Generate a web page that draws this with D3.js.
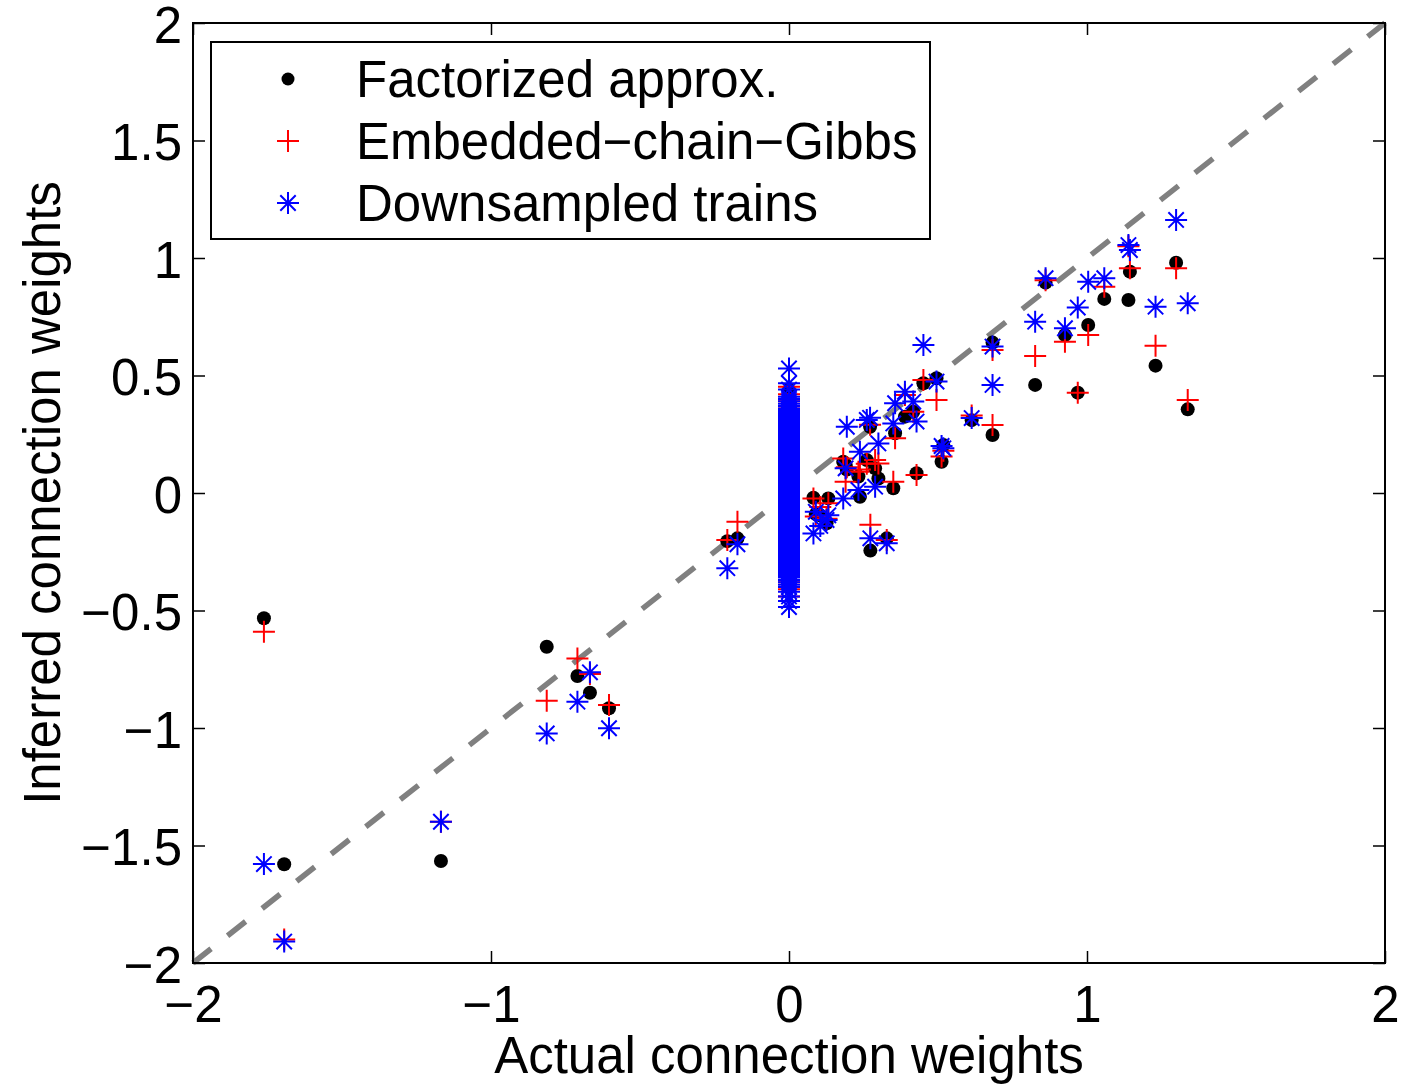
<!DOCTYPE html>
<html lang="en">
<head>
<meta charset="utf-8">
<title>Inferred vs actual connection weights</title>
<script src="https://d3js.org/d3.v7.min.js"></script>
<style>
  body { margin: 0; background: #fff; }
  svg text { font-family: "Liberation Sans", Arial, Helvetica, sans-serif; fill: #000; }
</style>
</head>
<body>
<div id="chart"></div>
<script>
// actual weight of each non-zero connection, and what each method inferred
var actualW = [-1.762, -1.694, -1.168, -0.813, -0.710, -0.668, -0.604, -0.207, -0.173,
  0.082, 0.090, 0.105, 0.126, 0.132, 0.182, 0.190, 0.194, 0.233, 0.238, 0.261, 0.272,
  0.273, 0.289, 0.300, 0.328, 0.350, 0.356, 0.389, 0.417, 0.428, 0.451, 0.495, 0.512,
  0.518, 0.613, 0.683, 0.683, 0.826, 0.861, 0.926, 0.969, 1.004, 1.058, 1.139, 1.144,
  1.230, 1.299, 1.338];
var factorized = [-0.533, -1.580, -1.566, -0.654, -0.779, -0.850, -0.916, -0.205, -0.193,
  -0.020, -0.090, -0.095, -0.129, -0.023, 0.133, 0.120, 0.100, 0.070, -0.016, 0.140, 0.282,
  -0.245, 0.105, 0.062, -0.193, 0.020, 0.254, 0.325, 0.346, 0.084, 0.467, 0.488, 0.133,
  0.204, 0.310, 0.247, 0.640, 0.460, 0.895, 0.672, 0.427, 0.715, 0.826, 0.821, 0.942,
  0.542, 0.980, 0.356];
var embedded = [-0.590, -1.900, -1.399, -0.884, -0.704, -0.770, -0.902, -0.200, -0.122,
  -0.023, -0.100, -0.060, -0.110, -0.044, 0.147, 0.048, 0.110, 0.090, 0.100, 0.125, 0.290,
  -0.135, 0.140, 0.126, -0.200, 0.048, 0.233, 0.417, 0.346, 0.077, 0.481, 0.396, 0.155,
  0.180, 0.330, 0.289, 0.609, 0.583, 0.905, 0.644, 0.427, 0.672, 0.878, 1.050, 0.956,
  0.627, 0.956, 0.396];
var downsampled = [-1.579, -1.909, -1.399, -1.023, -0.888, -0.763, -1.001, -0.320, -0.218,
  -0.172, -0.080, -0.140, -0.115, -0.095, -0.023, 0.105, 0.282, 0.013, 0.176, 0.311, 0.320,
  -0.193, 0.027, 0.211, -0.214, 0.296, 0.382, 0.431, 0.389, 0.304, 0.630, 0.474, 0.200,
  0.190, 0.319, 0.460, 0.623, 0.729, 0.914, 0.701, 0.789, 0.899, 0.914, 1.055, 1.034,
  0.793, 1.162, 0.807];

// connections whose actual weight is zero (dense column at x = 0)
var zeroFactorized = [0.438, 0.40, 0.35, 0.31, 0.27, 0.22, 0.18, 0.13, 0.09, 0.05, 0.01,
  -0.03, -0.07, -0.11, -0.16, -0.20, -0.24, -0.28, -0.32, -0.36, -0.40];
var zeroEmbedded = [0.452, 0.42, 0.39, 0.36, 0.33, 0.30, 0.275, 0.25, 0.22, 0.195, 0.17,
  0.14, 0.115, 0.09, 0.06, 0.035, 0.01, -0.015, -0.04, -0.07, -0.095, -0.12, -0.15,
  -0.175, -0.20, -0.225, -0.25, -0.28, -0.305, -0.33, -0.355, -0.38, -0.41, -0.44];
var zeroDownsampled = [0.530, 0.467, 0.44, 0.41, 0.40, 0.39, 0.38, 0.37, 0.36, 0.355, 0.35,
  0.345, 0.34, 0.335, 0.33, 0.325, 0.32, 0.315, 0.31, 0.305, 0.30, 0.295, 0.29, 0.285,
  0.28, 0.275, 0.27, 0.265, 0.26, 0.255, 0.25, 0.245, 0.24, 0.235, 0.23, 0.225, 0.22,
  0.215, 0.21, 0.205, 0.20, 0.195, 0.19, 0.185, 0.18, 0.175, 0.17, 0.165, 0.16, 0.155,
  0.15, 0.145, 0.14, 0.135, 0.13, 0.125, 0.12, 0.115, 0.11, 0.105, 0.10, 0.095, 0.09,
  0.085, 0.08, 0.075, 0.07, 0.065, 0.06, 0.055, 0.05, 0.045, 0.04, 0.035, 0.03, 0.025,
  0.02, 0.015, 0.01, 0.005, 0.00, -0.005, -0.01, -0.015, -0.02, -0.025, -0.03, -0.035,
  -0.04, -0.045, -0.05, -0.055, -0.06, -0.065, -0.07, -0.075, -0.08, -0.085, -0.09,
  -0.095, -0.10, -0.105, -0.11, -0.115, -0.12, -0.125, -0.13, -0.135, -0.14, -0.145,
  -0.15, -0.155, -0.16, -0.165, -0.17, -0.175, -0.18, -0.185, -0.19, -0.195, -0.20,
  -0.205, -0.21, -0.215, -0.22, -0.225, -0.23, -0.235, -0.24, -0.245, -0.25, -0.255,
  -0.26, -0.265, -0.27, -0.275, -0.28, -0.285, -0.29, -0.295, -0.30, -0.305, -0.31,
  -0.315, -0.32, -0.325, -0.33, -0.335, -0.34, -0.345, -0.35, -0.355, -0.36, -0.37,
  -0.38, -0.39, -0.40, -0.42, -0.44, -0.46, -0.485];

var xTicks = [-2, -1, 0, 1, 2];
var yTicks = [-2, -1.5, -1, -0.5, 0, 0.5, 1, 1.5, 2];
var legendLabels = ["Factorized approx.", "Embedded\u2212chain\u2212Gibbs", "Downsampled trains"];

// layout
var W = 1403, H = 1087;
var margin = {top: 23, right: 18, bottom: 124, left: 193},
    width = W - margin.left - margin.right,
    height = H - margin.top - margin.bottom;
var fontSize = "51px";

var svg = d3.select("#chart")
  .append("svg")
    .attr("width", W)
    .attr("height", H)
  .append("g")
    .attr("transform", "translate(" + margin.left + "," + margin.top + ")");

var x = d3.scaleLinear().domain([-2, 2]).range([0, width]);
var y = d3.scaleLinear().domain([-2, 2]).range([height, 0]);
var fmt = d3.format("~g");

// ticks go inward on all four sides, like a boxed matlab axis
svg.append("g")
  .attr("transform", "translate(0," + height + ")")
  .call(d3.axisBottom(x).tickValues(xTicks).tickFormat(fmt).tickSizeInner(-12).tickSizeOuter(0).tickPadding(23))
  .call(g => g.select(".domain").remove());
svg.append("g")
  .call(d3.axisTop(x).tickValues(xTicks).tickFormat("").tickSizeInner(-12).tickSizeOuter(0))
  .call(g => g.select(".domain").remove());
svg.append("g")
  .attr("class", "yaxis")
  .call(d3.axisLeft(y).tickValues(yTicks).tickFormat(fmt).tickSizeInner(-12).tickSizeOuter(0).tickPadding(11))
  .call(g => g.select(".domain").remove());
svg.append("g")
  .attr("transform", "translate(" + width + ",0)")
  .call(d3.axisRight(y).tickValues(yTicks).tickFormat("").tickSizeInner(-12).tickSizeOuter(0))
  .call(g => g.select(".domain").remove());

svg.selectAll(".tick line").attr("stroke", "#000").attr("stroke-width", 1.5);
svg.selectAll(".tick text")
  .style("font-size", fontSize)
  .style("font-family", '"Liberation Sans", Arial, Helvetica, sans-serif');
svg.selectAll(".yaxis .tick text").attr("dy", "0.38em");

// identity line
svg.append("line")
  .attr("x1", x(-2)).attr("y1", y(-2))
  .attr("x2", x(2)).attr("y2", y(2))
  .attr("stroke", "#808080")
  .attr("stroke-width", 5.5)
  .attr("stroke-dasharray", "23,21");

function asterisk(s) {
  var d = 0.7 * s;
  return "M" + (-s) + ",0H" + s + "M0," + (-s) + "V" + s +
         "M" + (-d) + "," + (-d) + "L" + d + "," + d +
         "M" + (-d) + "," + d + "L" + d + "," + (-d);
}
function plus(s) {
  return "M" + (-s) + ",0H" + s + "M0," + (-s) + "V" + s;
}

var fPts = actualW.map((a, i) => [a, factorized[i]]).concat(zeroFactorized.map(v => [0, v]));
var ePts = actualW.map((a, i) => [a, embedded[i]]).concat(zeroEmbedded.map(v => [0, v]));
var dPts = actualW.map((a, i) => [a, downsampled[i]]).concat(zeroDownsampled.map(v => [0, v]));

svg.selectAll("circle.fact")
  .data(fPts)
  .enter()
  .append("circle")
    .attr("class", "fact")
    .attr("cx", d => x(d[0]))
    .attr("cy", d => y(d[1]))
    .attr("r", 7)
    .attr("fill", "#000");

svg.selectAll("path.emb")
  .data(ePts)
  .enter()
  .append("path")
    .attr("class", "emb")
    .attr("transform", d => "translate(" + x(d[0]) + "," + y(d[1]) + ")")
    .attr("d", plus(11))
    .attr("fill", "none")
    .attr("stroke", "#ff0000")
    .attr("stroke-width", 2);

svg.selectAll("path.down")
  .data(dPts)
  .enter()
  .append("path")
    .attr("class", "down")
    .attr("transform", d => "translate(" + x(d[0]) + "," + y(d[1]) + ")")
    .attr("d", asterisk(11))
    .attr("fill", "none")
    .attr("stroke", "#0000ff")
    .attr("stroke-width", 2);

// plot box
svg.append("rect")
  .attr("width", width)
  .attr("height", height)
  .attr("fill", "none")
  .attr("stroke", "#000")
  .attr("stroke-width", 2);

// legend
var legend = svg.append("g").attr("transform", "translate(18,19)");
legend.append("rect")
  .attr("width", 719)
  .attr("height", 197)
  .attr("fill", "#fff")
  .attr("stroke", "#000")
  .attr("stroke-width", 2);

var rows = legend.selectAll("g.row")
  .data(legendLabels)
  .enter()
  .append("g")
    .attr("class", "row")
    .attr("transform", (d, i) => "translate(77," + (37 + i * 62) + ")");

rows.each(function(d, i) {
  var g = d3.select(this);
  if (i == 0)
    g.append("circle").attr("r", 6.5).attr("fill", "#000");
  else
    g.append("path")
      .attr("d", i == 1 ? plus(11) : asterisk(11))
      .attr("fill", "none")
      .attr("stroke", i == 1 ? "#ff0000" : "#0000ff")
      .attr("stroke-width", 2);
  g.append("text")
    .attr("x", 68)
    .attr("y", 18)
    .style("font-size", fontSize)
    .text(d);
});

// axis titles
svg.append("text")
  .attr("x", x(0))
  .attr("y", height + 110)
  .style("text-anchor", "middle")
  .style("font-size", fontSize)
  .text("Actual connection weights");

svg.append("text")
  .attr("transform", "translate(" + (60 - margin.left) + "," + y(0) + ") rotate(-90)")
  .style("text-anchor", "middle")
  .style("font-size", fontSize)
  .text("Inferred connection weights");
</script>
</body>
</html>
